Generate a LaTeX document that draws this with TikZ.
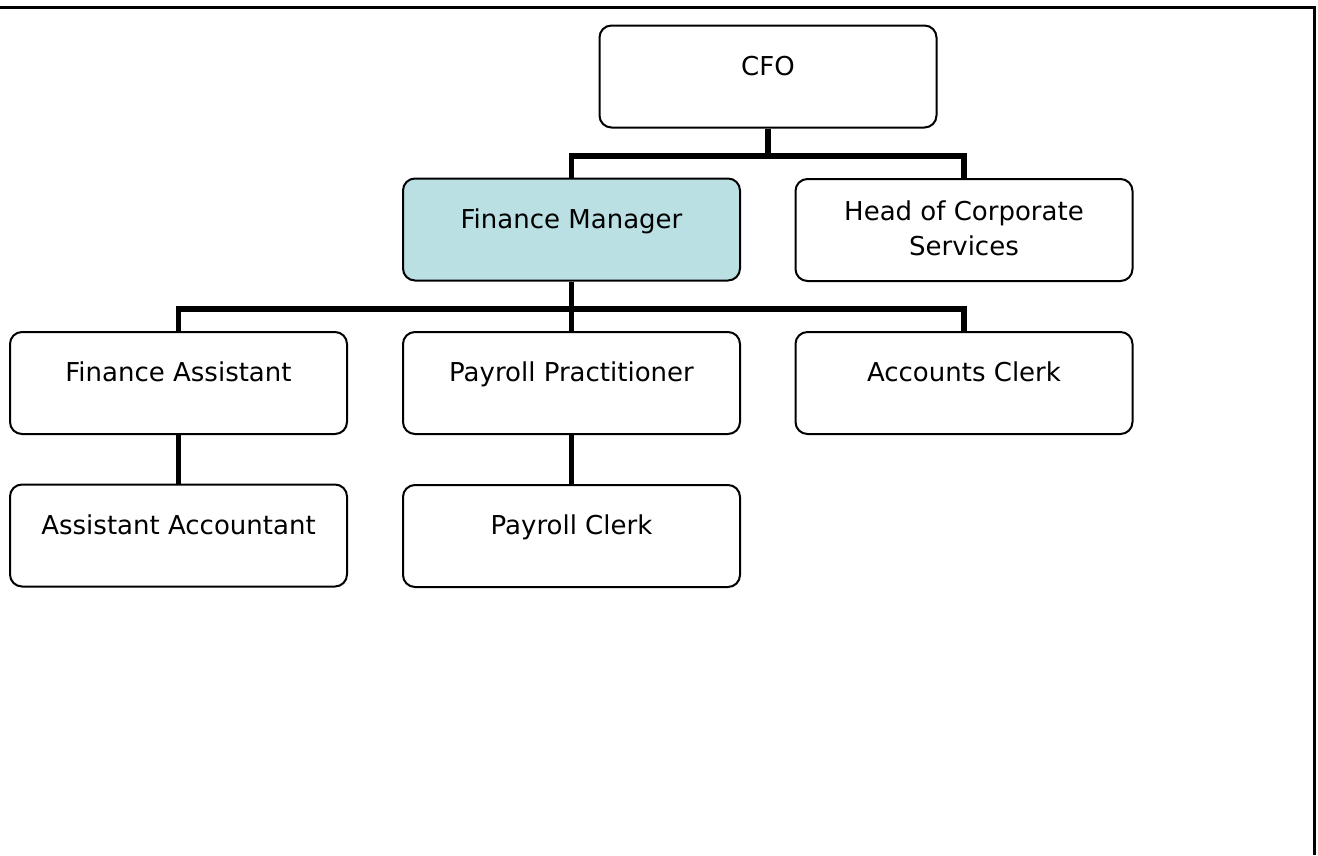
\documentclass[tikz,border=0pt]{standalone}
\usepackage{fontspec}
\setmainfont{DejaVu Sans}
\begin{document}
\begin{tikzpicture}[x=1pt,y=-1pt,
  box/.style={draw=black, line width=2pt, rounded corners=12pt, fill=white,
    minimum width=337pt, minimum height=102pt, inner sep=0pt, align=center,
    font=\fontsize{26}{35.4}\selectfont},
  single/.style={text height=19pt, text depth=21.8pt},
  conn/.style={line width=5.4pt, line join=miter},
  frame/.style={line width=2.6pt}]
  \useasboundingbox (0,0) rectangle (1318,855);
  % page frame: top rule and right rule
  \draw[frame] (0,7.5) -- (1314.7,7.5) -- (1314.7,855);

  % connector levels
  \coordinate (barA) at (0,156);
  \coordinate (barB) at (0,309);

  % boxes
  \node[box, single] (cfo) at (768,76.5) {CFO};
  \node[box, single, fill={rgb,255:red,186;green,224;blue,227}] (fm) at (571.5,229.5) {Finance Manager};
  \node[box, text depth=4pt] (hcs) at (964,230) {Head of Corporate\\Services};
  \node[box, single] (fa) at (178.5,383) {Finance Assistant};
  \node[box, single] (pp) at (571.5,383) {Payroll Practitioner};
  \node[box, single] (ac) at (964,383) {Accounts Clerk};
  \node[box, single] (aa) at (178.5,535.5) {Assistant Accountant};
  \node[box, single] (pc) at (571.5,536) {Payroll Clerk};

  % CFO to its reports
  \draw[conn] (cfo.south) -- (cfo.south |- barA);
  \draw[conn] (fm.north) -- (fm.north |- barA) -- (hcs.north |- barA) -- (hcs.north);

  % Finance Manager to its reports
  \draw[conn] (fm.south) -- (pp.north);
  \draw[conn] (fa.north) -- (fa.north |- barB) -- (ac.north |- barB) -- (ac.north);

  % second-level reports
  \draw[conn] (fa.south) -- (aa.north);
  \draw[conn] (pp.south) -- (pc.north);
\end{tikzpicture}
\end{document}
